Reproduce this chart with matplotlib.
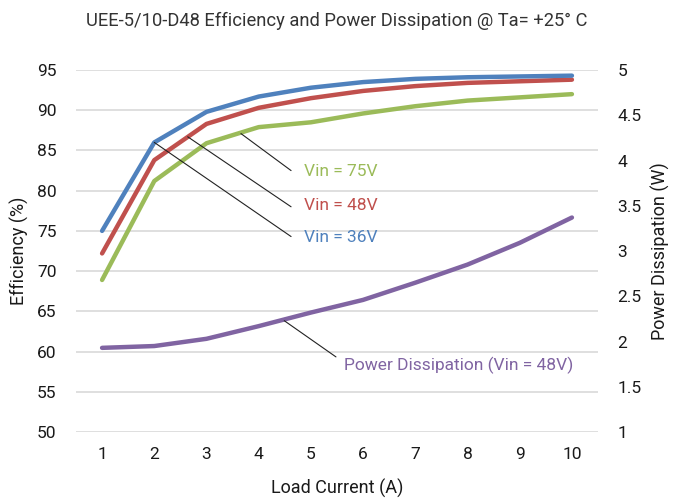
import matplotlib
matplotlib.use("Agg")
import matplotlib.pyplot as plt

plt.rcParams['font.family'] = ['Roboto', 'DejaVu Sans']

load_current = [1, 2, 3, 4, 5, 6, 7, 8, 9, 10]
eff_36v = [75.0, 86.0, 89.8, 91.7, 92.8, 93.5, 93.9, 94.1, 94.2, 94.3]
eff_48v = [72.2, 83.8, 88.3, 90.3, 91.5, 92.4, 93.0, 93.4, 93.6, 93.8]
eff_75v = [68.9, 81.2, 85.9, 87.9, 88.5, 89.6, 90.5, 91.2, 91.6, 92.0]
pdiss_48v = [1.93, 1.95, 2.03, 2.17, 2.32, 2.46, 2.65, 2.85, 3.09, 3.37]

eff_ticks = [50, 55, 60, 65, 70, 75, 80, 85, 90, 95]
pd_ticks = [1, 1.5, 2, 2.5, 3, 3.5, 4, 4.5, 5]
pd_labels = ['1', '1.5', '2', '2.5', '3', '3.5', '4', '4.5', '5']

BLUE = '#4f81bd'
RED = '#c0504d'
GREEN = '#9bbb59'
PURPLE = '#8064a2'
INK = '#1a1a1a'

fig = plt.figure(figsize=(6.73, 4.98), dpi=100)
ax = fig.add_axes([0.1129, 0.1325, 0.7757, 0.7269])
ax2 = ax.twinx()

for a in (ax, ax2):
    for s in a.spines.values():
        s.set_visible(False)
    a.tick_params(length=0, labelsize=12.5, colors=INK)

ax.set_xlim(0.5, 10.5)
ax.set_ylim(50, 95)
ax.set_yticks(eff_ticks)
ax.set_xticks(load_current)
ax.tick_params(axis='y', pad=14)
ax.tick_params(axis='x', pad=11)
for t in eff_ticks:
    ax.axhline(t, color='#d9d9d9', lw=1.2, zorder=0)

ax2.set_ylim(1, 5)
ax2.set_yticks(pd_ticks)
ax2.set_yticklabels(pd_labels)
ax2.tick_params(axis='y', pad=14)

lw = 3.2
ax.plot(load_current, eff_75v, color=GREEN, lw=lw, solid_capstyle='round', zorder=3)
ax.plot(load_current, eff_48v, color=RED, lw=lw, solid_capstyle='round', zorder=3)
ax.plot(load_current, eff_36v, color=BLUE, lw=lw, solid_capstyle='round', zorder=3)
ax2.plot(load_current, pdiss_48v, color=PURPLE, lw=lw, solid_capstyle='round', zorder=3)

ax.set_xlabel('Load Current (A)', fontsize=13, color=INK, labelpad=12)
ax.set_ylabel('Efficiency (%)', fontsize=13, color=INK, labelpad=6)
ax2.set_ylabel('Power Dissipation (W)', fontsize=13, color=INK, labelpad=7)
fig.text(0.5, 0.957, 'UEE-5/10-D48 Efficiency and Power Dissipation @ Ta= +25° C',
         ha='center', va='center', fontsize=13.2, color='#333333')

# leader lines from each curve to its label
leader = dict(arrowstyle='-', color='#222222', lw=0.8, shrinkA=0, shrinkB=0)
ax.annotate('', xy=(3.66, 87.1), xytext=(4.62, 82.5), arrowprops=leader)
ax.annotate('', xy=(2.64, 86.7), xytext=(4.62, 78.0), arrowprops=leader)
ax.annotate('', xy=(2.0, 86.0), xytext=(4.62, 74.3), arrowprops=leader)
ax2.annotate('', xy=(4.49, 2.23), xytext=(5.48, 1.83), arrowprops=leader)

ax.text(4.87, 82.36, 'Vin = 75V', fontsize=12.5, color=GREEN, va='center', ha='left')
ax.text(4.87, 78.22, 'Vin = 48V', fontsize=12.5, color=RED, va='center', ha='left')
ax.text(4.87, 74.15, 'Vin = 36V', fontsize=12.5, color=BLUE, va='center', ha='left')
ax2.text(5.64, 1.74, 'Power Dissipation (Vin = 48V)', fontsize=12.5, color=PURPLE,
         va='center', ha='left')

fig.savefig('out.png', dpi=100)
